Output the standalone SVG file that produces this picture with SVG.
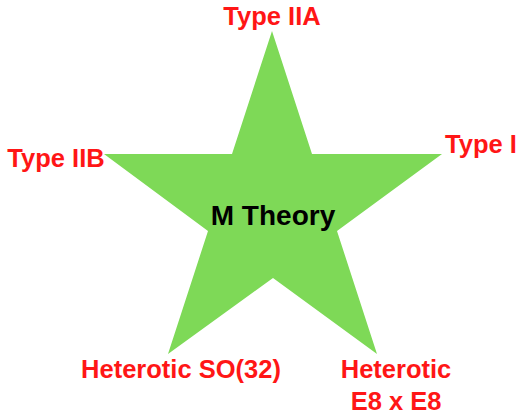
<svg xmlns="http://www.w3.org/2000/svg" width="520" height="416" viewBox="0 0 520 416">
<style>
.lbl{font-family:"Liberation Sans",Arial,sans-serif;font-weight:bold;font-size:25.5px;fill:#ff1616;text-anchor:middle}
.ctr{font-family:"Liberation Sans",Arial,sans-serif;font-weight:bold;font-size:28px;fill:#000;text-anchor:middle}
</style>
<rect width="520" height="416" fill="#fff"/>
<g id="star">
<polygon points="272,31 312,154 442,154 337,231 377,354 273,278 168,354 208,231 104,154 232,154" fill="#7ed957"/>
<text class="ctr" x="273" y="225">M Theory</text>
</g>
<g id="connectors"></g>
<g id="typeIIA"><text class="lbl" x="272" y="25">Type IIA</text></g>
<g id="typeIIB"><text class="lbl" x="56" y="167">Type IIB</text></g>
<g id="typeI"><text class="lbl" x="481" y="153">Type I</text></g>
<g id="hetSO"><text class="lbl" x="181" y="378">Heterotic SO(32)</text></g>
<g id="hetE8"><text class="lbl" x="396" y="378">Heterotic</text><text class="lbl" x="396" y="410">E8 x E8</text></g>
</svg>
